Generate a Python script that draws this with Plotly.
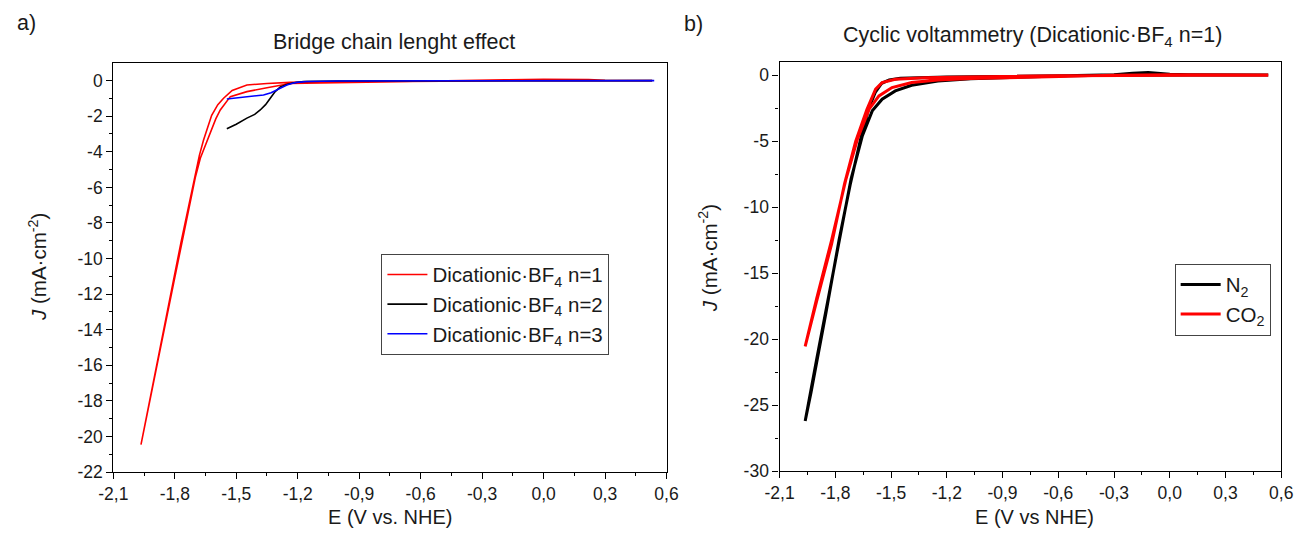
import plotly.graph_objects as go

# ---------------- data ----------------
# Panel a) Bridge chain length effect
n1_E = [0.53, 0.30, 0.22, 0.10, 0.00, -0.19, -0.40, -0.70, -0.88, -1.00, -1.124, -1.237,
        -1.35, -1.448, -1.529, -1.578, -1.60, -1.625, -1.65, -1.675, -1.70, -1.73,
        -1.77, -1.806, -1.88, -1.965,
        -1.88, -1.806, -1.77, -1.73, -1.70, -1.68, -1.66, -1.64, -1.62, -1.59, -1.562,
        -1.52, -1.448, -1.35, -1.237, -1.00, -0.88, -0.50, 0.00, 0.53]
n1_J = [0.00, 0.01, 0.06, 0.08, 0.07, 0.04, 0.00, -0.03, -0.07, -0.09, -0.10, -0.16,
        -0.40, -0.62, -0.90, -1.65, -2.15, -2.90, -3.65, -4.35, -5.45, -7.10,
        -9.35, -11.40, -15.60, -20.45,
        -15.40, -11.20, -9.10, -6.85, -5.20, -4.20, -3.35, -2.60, -1.95, -1.35, -0.99,
        -0.55, -0.25, -0.16, -0.10, -0.07, -0.06, -0.02, 0.00, 0.00]

n2_E = [-1.546, -1.50, -1.448, -1.41, -1.383, -1.357, -1.334, -1.31, -1.285, -1.25,
        -1.22, -1.172, -1.00, -0.50, 0.00, 0.53]
n2_J = [-2.71, -2.45, -2.11, -1.90, -1.65, -1.35, -0.99, -0.62, -0.35, -0.20,
        -0.12, -0.05, -0.02, -0.01, 0.00, 0.00]

n3_E = [-1.546, -1.50, -1.448, -1.40, -1.367, -1.33, -1.302, -1.275, -1.253, -1.225,
        -1.204, -1.155, -1.00, -0.50, 0.00, 0.54]
n3_J = [-1.03, -0.97, -0.90, -0.86, -0.81, -0.68, -0.53, -0.38, -0.25, -0.15,
        -0.10, -0.05, -0.02, -0.01, -0.01, 0.00]

# Panel b) Cyclic voltammetry, Dicationic·BF4 n=1
n2gas_E = [0.53, 0.30, 0.10, 0.00, -0.05, -0.116, -0.20, -0.30, -0.50, -0.842, -1.072,
           -1.248, -1.389, -1.477, -1.548, -1.601, -1.654, -1.715, -1.834, -1.90, -1.962,
           -1.93, -1.85, -1.78, -1.72, -1.66, -1.62, -1.585, -1.55, -1.51, -1.45, -1.35,
           -1.20, -0.90, -0.60, -0.30, 0.10]
n2gas_J = [0.02, 0.02, 0.05, 0.08, 0.15, 0.22, 0.15, 0.05, -0.02, -0.17, -0.25,
           -0.43, -0.75, -1.18, -1.81, -2.69, -4.57, -7.84, -16.50, -21.50, -26.20,
           -24.00, -18.00, -12.50, -8.30, -4.60, -2.50, -1.30, -0.60, -0.35, -0.22, -0.18,
           -0.13, -0.08, -0.03, 0.00, 0.02]

co2_E = [0.53, 0.30, 0.10, 0.00, -0.30, -0.60, -0.90, -1.072, -1.248, -1.389, -1.495,
         -1.565, -1.618, -1.68, -1.742, -1.82, -1.90, -1.962,
         -1.90, -1.82, -1.75, -1.69, -1.63, -1.583, -1.548, -1.477, -1.319, -1.00,
         -0.60, 0.10, 0.53]
co2_J = [0.02, 0.02, 0.06, 0.05, 0.00, -0.10, -0.18, -0.23, -0.35, -0.55, -0.93,
         -1.56, -2.56, -4.80, -7.84, -12.50, -16.90, -20.55,
         -17.10, -12.80, -8.20, -5.00, -2.60, -1.05, -0.55, -0.30, -0.18, -0.10,
         -0.03, 0.00, 0.00]

x_ticks = [-2.1, -1.8, -1.5, -1.2, -0.9, -0.6, -0.3, 0.0, 0.3, 0.6]
x_ticktext = ["-2,1", "-1,8", "-1,5", "-1,2", "-0,9", "-0,6", "-0,3", "0,0", "0,3", "0,6"]
ya_ticks = [0, -2, -4, -6, -8, -10, -12, -14, -16, -18, -20, -22]
ya_ticktext = ["0", "-2", "-4", "-6", "-8", "-10", "-12", "-14", "-16", "-18", "-20", "-22"]
yb_ticks = [0, -5, -10, -15, -20, -25, -30]
yb_ticktext = ["0", "-5", "-10", "-15", "-20", "-25", "-30"]

# ---------------- figure ----------------
FONT = "Arial, Liberation Sans, sans-serif"
W, H = 1305, 537
TXT = "#1a1a1a"
# the photographed page appears slightly shrunk and shifted; place items so that
# they land on the reference pixel positions
SX, OX, SY = 0.979, 14.7, 0.979


def px_x(p):
    return max(0.0, min(1.0, ((p - OX) / SX) / W))


def px_y(p):
    return max(0.0, min(1.0, 1 - (p / SY) / H))


fig = go.Figure()
fig.add_trace(go.Scatter(x=n1_E, y=n1_J, mode="lines", line=dict(color="#ff0000", width=1.6),
                         name="Dicationic·BF<sub>4</sub> n=1", xaxis="x", yaxis="y", legend="legend"))
fig.add_trace(go.Scatter(x=n2_E, y=n2_J, mode="lines", line=dict(color="#000000", width=1.6),
                         name="Dicationic·BF<sub>4</sub> n=2", xaxis="x", yaxis="y", legend="legend"))
fig.add_trace(go.Scatter(x=n3_E, y=n3_J, mode="lines", line=dict(color="#0000ff", width=1.6),
                         name="Dicationic·BF<sub>4</sub> n=3", xaxis="x", yaxis="y", legend="legend"))
fig.add_trace(go.Scatter(x=n2gas_E, y=n2gas_J, mode="lines", line=dict(color="#000000", width=3),
                         name="N<sub>2</sub>", xaxis="x2", yaxis="y2", legend="legend2"))
fig.add_trace(go.Scatter(x=co2_E, y=co2_J, mode="lines", line=dict(color="#ff0000", width=3),
                         name="CO<sub>2</sub>", xaxis="x2", yaxis="y2", legend="legend2"))

axis_common = dict(showline=True, linecolor="black", linewidth=1.3, mirror=True,
                   ticks="outside", ticklen=6, tickwidth=1.2, tickcolor="black",
                   showgrid=False, zeroline=False,
                   tickfont=dict(family=FONT, size=17.5, color=TXT))
minor_style = dict(ticks="outside", ticklen=3, tickcolor="black", tickwidth=1)
x_minor = [v + 0.15 for v in x_ticks[:-1]]
ya_minor = [v - 1 for v in ya_ticks[:-1]]
yb_minor = [v - 2.5 for v in yb_ticks[:-1]]

fig.update_layout(
    width=W, height=H, autosize=False,
    margin=dict(l=0, r=0, t=0, b=0),
    paper_bgcolor="white", plot_bgcolor="white",
    font=dict(family=FONT, color=TXT),
    xaxis=dict(domain=[px_x(113), px_x(666)], range=[-2.1, 0.6], anchor="y",
               tickmode="array", tickvals=x_ticks, ticktext=x_ticktext,
               minor=dict(tickmode="array", tickvals=x_minor, **minor_style), **axis_common),
    yaxis=dict(domain=[px_y(471), px_y(63)], range=[-22, 0.98], anchor="x",
               tickmode="array", tickvals=ya_ticks, ticktext=ya_ticktext,
               minor=dict(tickmode="array", tickvals=ya_minor, **minor_style), **axis_common),
    xaxis2=dict(domain=[px_x(779), 1293 / W], range=[-2.1, 0.6], anchor="y2",
                tickmode="array", tickvals=x_ticks, ticktext=x_ticktext,
                minor=dict(tickmode="array", tickvals=x_minor, **minor_style), **axis_common),
    yaxis2=dict(domain=[px_y(470), px_y(62)], range=[-30, 1.0], anchor="x2",
                tickmode="array", tickvals=yb_ticks, ticktext=yb_ticktext,
                minor=dict(tickmode="array", tickvals=yb_minor, **minor_style), **axis_common),
    legend=dict(x=px_x(381), y=px_y(253), xanchor="left", yanchor="top",
                bordercolor="#444", borderwidth=1, bgcolor="white",
                font=dict(family=FONT, size=20.5, color=TXT), tracegroupgap=0, itemwidth=40),
    legend2=dict(x=px_x(1174), y=px_y(263), xanchor="left", yanchor="top",
                 bordercolor="#444", borderwidth=1, bgcolor="white",
                 font=dict(family=FONT, size=20.5, color=TXT), tracegroupgap=0, itemwidth=40),
)

annotations = [
    dict(text="a)", x=0.0, y=px_y(23), xanchor="left", yanchor="middle", font=dict(size=21.5)),
    dict(text="b)", x=px_x(681), y=px_y(24), xanchor="left", yanchor="middle", font=dict(size=21.5)),
    dict(text="Bridge chain lenght effect", x=px_x(394), y=px_y(42), xanchor="center",
         yanchor="middle", font=dict(size=21.5)),
    dict(text="Cyclic voltammetry (Dicationic·BF<sub>4</sub> n=1)", x=px_x(1032), y=px_y(36),
         xanchor="center", yanchor="middle", font=dict(size=21.5)),
    dict(text="E (V vs. NHE)", x=px_x(389.5), y=-3 / H, xanchor="center", yanchor="bottom",
         font=dict(size=20)),
    dict(text="E (V vs NHE)", x=px_x(1034), y=-3 / H, xanchor="center", yanchor="bottom",
         font=dict(size=20)),
    dict(text="<i>J</i> (mA·cm<sup>-2</sup>)", x=px_x(37), y=px_y(266), xanchor="center",
         yanchor="middle", textangle=-90, font=dict(size=20.5)),
    dict(text="<i>J</i> (mA·cm<sup>-2</sup>)", x=px_x(707), y=px_y(258), xanchor="center",
         yanchor="middle", textangle=-90, font=dict(size=20.5)),
]
for a in annotations:
    a.update(xref="paper", yref="paper", showarrow=False)
    a["font"].update(family=FONT, color=TXT)
fig.update_layout(annotations=annotations)

fig.write_html("out.html")
